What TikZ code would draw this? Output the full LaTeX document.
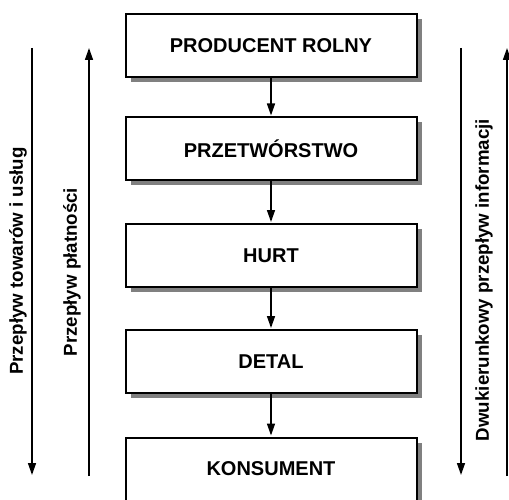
\documentclass[tikz,border=0pt]{standalone}
\usepackage{fontspec}
\setmainfont{Liberation Sans}
\usetikzlibrary{arrows.meta,shadows}
\begin{document}
\begin{tikzpicture}[x=1pt,y=-1pt,
  stage/.style={draw=black, line width=2pt, fill=white,
    minimum width=291pt, minimum height=63pt, inner sep=0pt,
    font=\fontsize{20}{24}\selectfont\bfseries,
    drop shadow={shadow xshift=5pt, shadow yshift=-5pt, fill=black!50, opacity=1}},
  flow/.style={line width=1.5pt, -{Triangle[length=12pt,width=8pt]}},
  side/.style={rotate=90, inner sep=0pt, font=\fontsize{18.7}{22}\selectfont\bfseries}]
  \clip (0,0) rectangle (509,500);

  % chain of stages
  \node[stage] (prod) at (271,45.5)  {PRODUCENT ROLNY};
  \node[stage] (proc) at (271,149)   {PRZETWÓRSTWO};
  \node[stage] (whole) at (271,255.5){HURT};
  \node[stage] (retail) at (271,361.5){DETAL};
  \node[stage] (cons) at (271,469)   {KONSUMENT};

  \draw[flow, shorten >=1pt] (prod.south)   -- (proc.north);
  \draw[flow, shorten >=1pt] (proc.south)   -- (whole.north);
  \draw[flow, shorten >=1pt] (whole.south)  -- (retail.north);
  \draw[flow, shorten >=1pt] (retail.south) -- (cons.north);

  % flows along the left side
  \coordinate (goodsTop) at (32,48);
  \coordinate (goodsBot) at (32,475);
  \coordinate (payTop) at (89,48);
  \coordinate (payBot) at (89,476);
  \draw[flow] (goodsTop) -- (goodsBot);
  \draw[flow] (payBot) -- (payTop);
  \node[side] (goodsLbl) at (18,261) {Przepływ towarów i usług};
  \node[side] (payLbl) at (72,272) {Przepływ płatności};

  % information flow on the right side
  \coordinate (infoTopA) at (461,48);
  \coordinate (infoBotA) at (461,475);
  \coordinate (infoTopB) at (507,48);
  \coordinate (infoBotB) at (507,476);
  \draw[flow] (infoTopA) -- (infoBotA);
  \draw[flow] (infoBotB) -- (infoTopB);
  \node[side] (infoLbl) at (484,280) {Dwukierunkowy przepływ informacji};
\end{tikzpicture}
\end{document}
